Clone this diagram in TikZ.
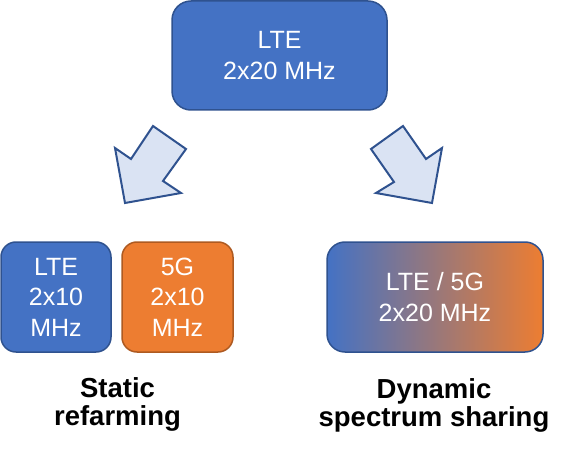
\documentclass[tikz,border=0pt]{standalone}
\usepackage{fontspec}
\setmainfont{Liberation Sans}
\definecolor{ltefill}{HTML}{4472C4}
\definecolor{lteborder}{HTML}{2F528F}
\definecolor{gfill}{HTML}{ED7D31}
\definecolor{gborder}{HTML}{AE5A21}
\definecolor{arrfill}{HTML}{DAE3F3}
\begin{document}
\begin{tikzpicture}[x=1pt,y=-1pt,
  box/.style={draw, line width=1.5pt, text=white, align=center, inner sep=0pt,
    font=\fontsize{25}{30.5}\selectfont},
  bluebox/.style={box, fill=ltefill, draw=lteborder},
  orangebox/.style={box, fill=gfill, draw=gborder},
  label/.style={align=center, inner sep=0pt, font=\bfseries\fontsize{27.5}{28.5}\selectfont},
  bigarrow/.style={draw=lteborder, fill=arrfill, line width=2pt, line join=miter}]
\useasboundingbox (0,0) rectangle (578,457);
\node[bluebox, minimum width=215pt, minimum height=109pt, rounded corners=19pt] (top) at (279.5,55.5) {LTE\\2x20 MHz};
\draw[bigarrow] (153,126) -- (186,149) -- (163,181) -- (181,193) -- (125,203) -- (115,148) -- (131,159) -- cycle;
\draw[bigarrow] (403,126) -- (426,159) -- (442,148) -- (432,203) -- (376,193) -- (394,182) -- (371,149) -- cycle;
\node[bluebox, minimum width=110pt, minimum height=110pt, rounded corners=15pt] (lte) at (56,297) {LTE\\2x10\\MHz};
\node[orangebox, minimum width=111pt, minimum height=110pt, rounded corners=15pt] (fiveg) at (177.5,297) {5G\\2x10\\MHz};
\node[box, draw=lteborder, left color=ltefill, right color=gfill, minimum width=216pt, minimum height=110pt, rounded corners=18pt] (dss) at (435,297) {LTE / 5G\\2x20 MHz};
\node[label] (static) at (117.5,404.3) {Static\\refarming};
\node[label] (dynamic) at (434,405.3) {Dynamic\\spectrum sharing};
\end{tikzpicture}
\end{document}
